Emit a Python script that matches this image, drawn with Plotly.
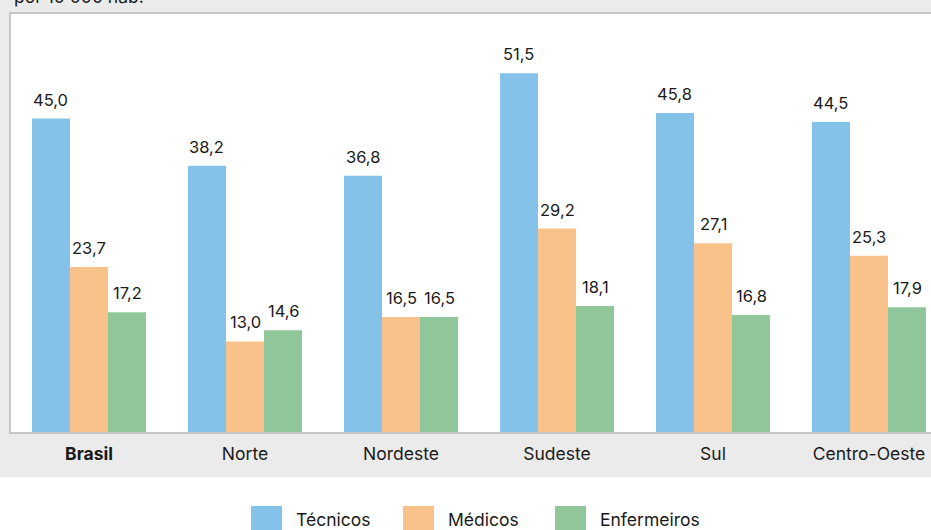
import plotly.graph_objects as go

# Profissionais de saúde por 10 000 habitantes, por região
regioes = ["Brasil", "Norte", "Nordeste", "Sudeste", "Sul", "Centro-Oeste"]
rotulos = ["<b>Brasil</b>", "Norte", "Nordeste", "Sudeste", "Sul", "Centro-Oeste"]
series = ["Técnicos", "Médicos", "Enfermeiros"]
tecnicos = [45.0, 38.2, 36.8, 51.5, 45.8, 44.5]
medicos = [23.7, 13.0, 16.5, 29.2, 27.1, 25.3]
enfermeiros = [17.2, 14.6, 16.5, 18.1, 16.8, 17.9]
valores = [tecnicos, medicos, enfermeiros]
cores = ["#85C2EA", "#F8C28A", "#8FC79A"]

W, H = 931, 530
ML, MR, MT, MB = 11, 0, 14, 98
PW, PH = W - ML - MR, H - MT - MB
BARGAP = 0.269
FONT = "Inter"
TXT = "#1a1a1a"

x = list(range(len(regioes)))
fig = go.Figure()
for nome, vals, cor in zip(series, valores, cores):
    fig.add_trace(go.Bar(x=x, y=vals, name=nome, marker=dict(color=cor, line=dict(width=0)),
                         showlegend=False, hoverinfo="skip"))

# value labels above each bar
bw = (1 - BARGAP) / len(series)
annotations = []
for k, vals in enumerate(valores):
    off = (k - (len(series) - 1) / 2) * bw
    for i, v in enumerate(vals):
        annotations.append(dict(
            x=i + off, y=v, xref="x", yref="y", text=f"{v:.1f}".replace(".", ","),
            showarrow=False, yanchor="bottom", xanchor="center", yshift=7,
            font=dict(family=FONT, size=16.5, color=TXT)))

def px_x(p):
    return (p - ML) / PW

def px_y(p):
    return (H - MB - p) / PH

# partial heading at the top edge
annotations.append(dict(x=px_x(12), y=px_y(9), xref="paper", yref="paper",
                        text="por 10 000 hab.", showarrow=False, xanchor="left", yanchor="bottom",
                        font=dict(family=FONT, size=17.5, color=TXT)))

# white band under the grey panel
shapes = [dict(type="rect", xref="paper", yref="paper", layer="below",
               x0=px_x(0), x1=1, y0=px_y(H + 5), y1=px_y(477),
               fillcolor="white", line=dict(width=0))]

# legend drawn as swatches + labels
leg_x0, leg_step = 251, 152
for k, (nome, cor) in enumerate(zip(series, cores)):
    sx = leg_x0 + k * leg_step
    shapes.append(dict(type="rect", xref="paper", yref="paper",
                       x0=px_x(sx), x1=px_x(sx + 31), y0=px_y(540), y1=px_y(506),
                       fillcolor=cor, line=dict(width=0)))
    annotations.append(dict(x=px_x(sx + 44), y=px_y(H), xref="paper", yref="paper",
                            text=nome, showarrow=False, xanchor="left", yanchor="bottom",
                            borderpad=0, yshift=-1,
                            font=dict(family=FONT, size=17.5, color=TXT)))

fig.update_layout(
    width=W, height=H, margin=dict(l=ML, r=MR, t=MT, b=MB, pad=0),
    paper_bgcolor="#EBEBEB", plot_bgcolor="white",
    barmode="group", bargap=BARGAP, bargroupgap=0,
    font=dict(family=FONT, size=17.5, color=TXT),
    separators=",.",
    showlegend=False,
    annotations=annotations, shapes=shapes,
    xaxis=dict(range=[-0.5, -0.5 + PW / 156], tickmode="array", tickvals=x, ticktext=rotulos,
               showgrid=False, zeroline=False, ticks="", showline=True, linecolor="#C6C6C6",
               linewidth=2, mirror=True, tickfont=dict(family=FONT, size=17.5, color=TXT),
               ticklabelstandoff=5, fixedrange=True),
    yaxis=dict(range=[0, 60], showgrid=False, zeroline=False, showticklabels=False, ticks="",
               showline=True, linecolor="#C6C6C6", linewidth=2, fixedrange=True),
)

fig.write_html("out.html")
